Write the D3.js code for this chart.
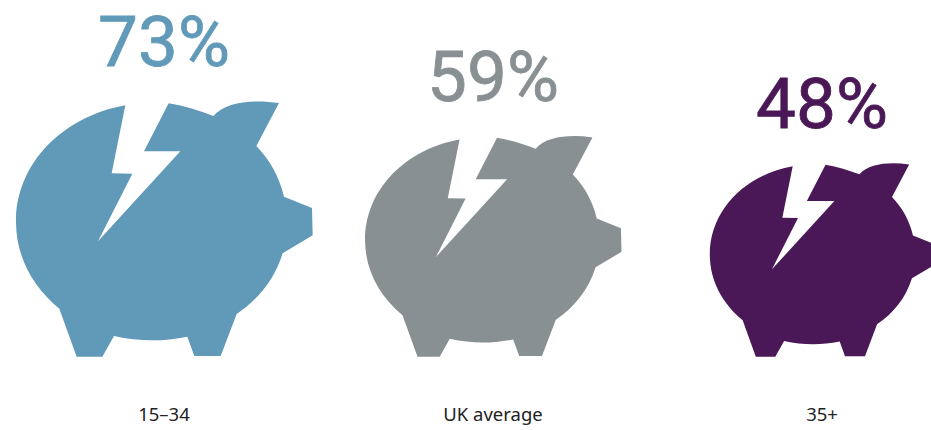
<!DOCTYPE html>
<html>
<head>
<meta charset="utf-8">
<script src="https://d3js.org/d3.v7.min.js"></script>
<style>
    html, body { margin: 0; padding: 0; background: #fff; overflow: hidden; }
    text { font-family: "Noto Sans", sans-serif; }
    .percent { font-family: Roboto, sans-serif; }
</style>
</head>
<body>
<div id="chart"></div>
<script>
var categories = ['15–34', 'UK average', '35+'];
var percents = [73, 59, 48];
var colours = ['#609ab8', '#899093', '#4a1856'];

var width = 931, height = 430;

// piggy bank glyph with the lightning crack, drawn once and scaled per value
var pig_path = 'M378,316 L337,520 L399,521 L296,724 L543,454 L434,454 L508,310 ' +
    'C555,318 600,332 642,348 C680,305 760,298 839,309 L771,438 ' +
    'C810,478 840,530 854,590 L938,624 L940,706 L850,760 ' +
    'C825,840 775,900 712,942 L664,1068 L585,1068 L564,1010 ' +
    'C490,1025 420,1025 344,1008 L309,1070 L232,1070 L180,926 ' +
    'C100,860 50,770 50,665 C50,490 190,350 378,316 Z';

var x = d3.scalePoint().domain(categories).range([164, 822]);
var size = d3.scaleLinear().domain([48, 73]).range([0.758, 1]);

var svg = d3.select('#chart')
    .append('svg')
    .attr('width', width)
    .attr('height', height);

var base_y = 356.7;

var pigs = svg.selectAll('.pig')
    .data(categories)
    .enter()
    .append('g')
    .attr('class', 'pig')
    .attr('transform', function (d) { return 'translate(' + x(d) + ',' + base_y + ')'; });

pigs.append('path')
    .attr('d', pig_path)
    .attr('fill', function (d, i) { return colours[i]; })
    .attr('transform', function (d, i) {
        return 'scale(' + (size(percents[i]) / 3) + ') translate(-494,-1070)';
    });

// percentage sits a fixed gap above the pig, full size pig is 255px tall
pigs.append('text')
    .attr('class', 'percent')
    .attr('text-anchor', 'middle')
    .attr('y', function (d, i) { return -size(percents[i]) * 255 - 35.5; })
    .attr('font-size', 71)
    .attr('fill', function (d, i) { return colours[i]; })
    .attr('stroke', function (d, i) { return colours[i]; })
    .attr('stroke-width', 0.8)
    .text(function (d, i) { return percents[i] + '%'; });

svg.selectAll('.cat')
    .data(categories)
    .enter()
    .append('text')
    .attr('class', 'cat')
    .attr('x', function (d) { return x(d); })
    .attr('y', 420.5)
    .attr('text-anchor', 'middle')
    .attr('font-size', 18.5)
    .attr('fill', '#222')
    .text(function (d) { return d; });
</script>
</body>
</html>
